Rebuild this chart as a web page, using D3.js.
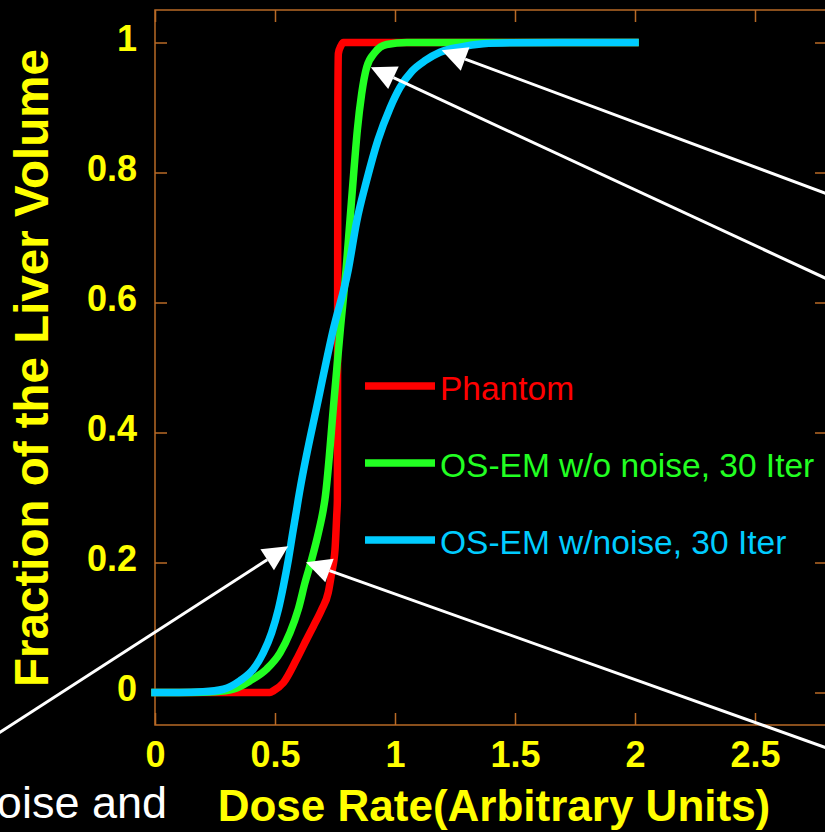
<!DOCTYPE html>
<html>
<head>
<meta charset="utf-8">
<script src="https://cdn.jsdelivr.net/npm/d3@7"></script>
<style>
  html, body { margin: 0; padding: 0; background: #000; }
  svg { display: block; }
  text { font-family: "Liberation Sans", Arial, Helvetica, sans-serif; }
</style>
</head>
<body>
<svg id="chart" width="825" height="832"></svg>
<script>
// Cumulative dose-volume curves for the liver
const phantomX = [0, 0.2, 0.479, 0.493, 0.535, 0.59, 0.632, 0.66, 0.695, 0.722, 0.736, 0.75, 0.757, 0.76, 0.761, 0.762, 0.764, 0.775, 0.785, 1.2, 2.0];
const phantomY = [0, 0, 0, 0.0025, 0.015, 0.051, 0.082, 0.102, 0.128, 0.154, 0.184, 0.22, 0.271, 0.297, 0.6, 0.911, 0.983, 0.995, 1, 1, 1];

const osemX = [0, 0.15, 0.25, 0.326, 0.396, 0.465, 0.521, 0.5625, 0.597, 0.625, 0.653, 0.681, 0.701, 0.708, 0.746, 0.772, 0.796, 0.8125, 0.829, 0.843, 0.861, 0.882, 0.917, 0.965, 1.049, 1.3, 2.0];
const osemY = [0, 0, 0.001, 0.005, 0.018, 0.036, 0.061, 0.092, 0.128, 0.169, 0.205, 0.246, 0.281, 0.297, 0.45, 0.558, 0.65, 0.727, 0.804, 0.865, 0.921, 0.962, 0.985, 0.997, 1, 1, 1];

const osemNoiseX = [0, 0.1, 0.2, 0.285, 0.354, 0.41, 0.451, 0.486, 0.514, 0.535, 0.556, 0.574, 0.59, 0.597, 0.68, 0.742, 0.805, 0.84, 0.882, 0.929, 0.979, 1.021, 1.071, 1.125, 1.1875, 1.271, 1.367, 1.479, 1.6875, 2.0];
const osemNoiseY = [0, 0, 0.001, 0.005, 0.018, 0.036, 0.061, 0.092, 0.128, 0.164, 0.205, 0.246, 0.281, 0.297, 0.45, 0.557, 0.65, 0.724, 0.788, 0.850, 0.899, 0.931, 0.956, 0.972, 0.985, 0.993, 0.998, 0.9995, 1, 1];

const seriesNames = ["Phantom", "OS-EM w/o noise, 30 Iter", "OS-EM w/noise, 30 Iter"];
const seriesColors = ["#ff0000", "#22ff22", "#00ccff"];

const xTicks = [0, 0.5, 1, 1.5, 2, 2.5];
const xTickLabels = ["0", "0.5", "1", "1.5", "2", "2.5"];
const yTicks = [0, 0.2, 0.4, 0.6, 0.8, 1];
const yTickLabels = ["0", "0.2", "0.4", "0.6", "0.8", "1"];

// Arrows: tail point -> tip point, in data units
const arrowTail = [[-0.7, -0.074], [2.854, -0.0927], [2.854, 0.627], [2.854, 0.7596]];
const arrowTip  = [[0.555, 0.225], [0.629, 0.2005], [0.899, 0.962], [1.1946, 0.988]];

const yellow = "#ffff00";
const frameColor = "#b86a26";

const svg = d3.select("#chart");
const margin = { left: 155, top: 10 };
const plotW = 672, plotH = 715;

const x = d3.scaleLinear().domain([0, 2.8]).range([margin.left, margin.left + plotW]);
const y = d3.scaleLinear().domain([-0.05, 1.05]).range([margin.top + plotH, margin.top]);

// Frame
svg.append("rect")
  .attr("x", x(0)).attr("y", y(1.05))
  .attr("width", x(2.8) - x(0)).attr("height", y(-0.05) - y(1.05))
  .attr("fill", "none").attr("stroke", frameColor).attr("stroke-width", 1.5);

function styleAxis(g, withLabels) {
  g.select(".domain").remove();
  g.selectAll(".tick line").attr("stroke", frameColor).attr("stroke-width", 1.5);
  g.selectAll(".tick text")
    .attr("fill", yellow)
    .attr("font-size", 36)
    .attr("font-weight", "bold")
    .style("display", withLabels ? null : "none");
}

// Bottom axis, ticks point inward
svg.append("g")
  .attr("transform", `translate(0,${y(-0.05)})`)
  .call(d3.axisBottom(x).tickValues(xTicks).tickFormat((d, i) => xTickLabels[i]).tickSize(-12).tickPadding(16).tickSizeOuter(0))
  .call(g => styleAxis(g, true));

// Top axis mirror
svg.append("g")
  .attr("transform", `translate(0,${y(1.05)})`)
  .call(d3.axisTop(x).tickValues(xTicks).tickSize(-12).tickSizeOuter(0))
  .call(g => styleAxis(g, false));

// Left axis
svg.append("g")
  .attr("transform", `translate(${x(0)},0)`)
  .call(d3.axisLeft(y).tickValues(yTicks).tickFormat((d, i) => yTickLabels[i]).tickSize(-12).tickPadding(18).tickSizeOuter(0))
  .call(g => styleAxis(g, true))
  .call(g => g.selectAll(".tick text").attr("dy", "0.23em"));

// Right axis mirror
svg.append("g")
  .attr("transform", `translate(${x(2.8)},0)`)
  .call(d3.axisRight(y).tickValues(yTicks).tickSize(-12).tickSizeOuter(0))
  .call(g => styleAxis(g, false));

// Curves
const line = d3.line()
  .x(d => x(d[0]))
  .y(d => y(d[1]))
  .curve(d3.curveMonotoneX);

const series = [
  d3.zip(phantomX, phantomY),
  d3.zip(osemX, osemY),
  d3.zip(osemNoiseX, osemNoiseY)
];

series.forEach((pts, i) => {
  svg.append("path")
    .datum(pts)
    .attr("d", line)
    .attr("fill", "none")
    .attr("stroke", seriesColors[i])
    .attr("stroke-width", 7.5)
    .attr("stroke-linecap", "square")
    .attr("stroke-linejoin", "round");
});

// Legend
const legendY = [386, 463, 540];
seriesNames.forEach((name, i) => {
  svg.append("line")
    .attr("x1", 365).attr("x2", 435)
    .attr("y1", legendY[i]).attr("y2", legendY[i])
    .attr("stroke", seriesColors[i]).attr("stroke-width", 7.5);
  svg.append("text")
    .attr("x", 440).attr("y", legendY[i] + 14)
    .attr("fill", seriesColors[i])
    .attr("font-size", 33.5)
    .text(name);
});

// Annotation arrows
const headLen = 25, headHalf = 12.5;
arrowTail.forEach((t, i) => {
  const x0 = x(t[0]), y0 = y(t[1]);
  const x1 = x(arrowTip[i][0]), y1 = y(arrowTip[i][1]);
  const ang = Math.atan2(y1 - y0, x1 - x0);
  const bx = x1 - headLen * Math.cos(ang), by = y1 - headLen * Math.sin(ang);
  svg.append("line")
    .attr("x1", x0).attr("y1", y0).attr("x2", bx).attr("y2", by)
    .attr("stroke", "#ffffff").attr("stroke-width", 3);
  const px = -Math.sin(ang), py = Math.cos(ang);
  svg.append("polygon")
    .attr("points", [
      [x1, y1],
      [bx + headHalf * px, by + headHalf * py],
      [bx - headHalf * px, by - headHalf * py]
    ].map(p => p.join(",")).join(" "))
    .attr("fill", "#ffffff");
});

// Axis titles
svg.append("text")
  .attr("x", 494).attr("y", 821)
  .attr("text-anchor", "middle")
  .attr("fill", yellow)
  .attr("font-size", 44)
  .attr("font-weight", "bold")
  .text("Dose Rate(Arbitrary Units)");

svg.append("text")
  .attr("transform", "translate(48,368) rotate(-90)")
  .attr("text-anchor", "middle")
  .attr("fill", yellow)
  .attr("font-size", 47.5)
  .attr("font-weight", "bold")
  .text("Fraction of the Liver Volume");

// Caption text running in from the left edge
svg.append("text")
  .attr("x", 167).attr("y", 818)
  .attr("text-anchor", "end")
  .attr("fill", "#ffffff")
  .attr("font-size", 45)
  .text("noise and");
</script>
</body>
</html>
